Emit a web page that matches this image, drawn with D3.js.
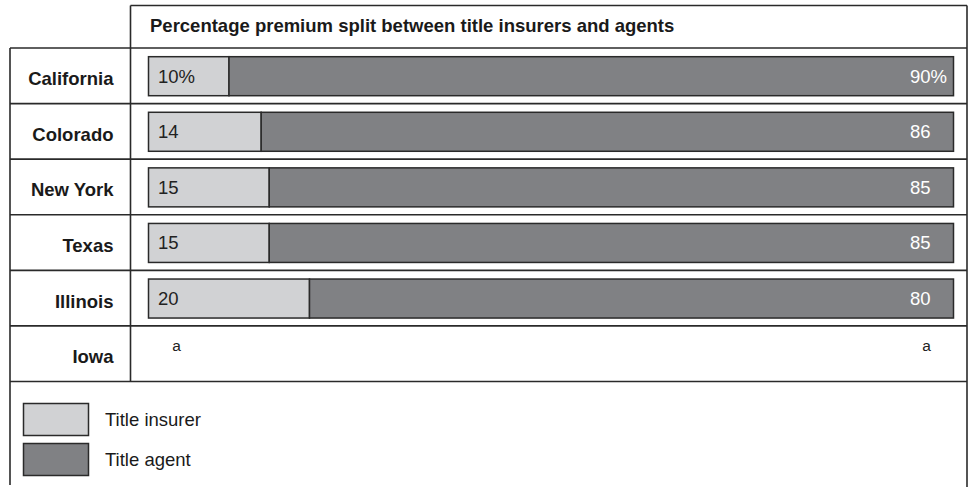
<!DOCTYPE html>
<html>
<head>
<meta charset="utf-8">
<script src="https://cdn.jsdelivr.net/npm/d3@7"></script>
<style>
body { margin: 0; background: #fff; }
svg { font-family: "Liberation Sans", Arial, Helvetica, sans-serif; }
</style>
</head>
<body>
<svg id="chart"></svg>
<script>
// data
var states   = ["California", "Colorado", "New York", "Texas", "Illinois", "Iowa"];
var insurer  = [10, 14, 15, 15, 20, null];
var agent    = [90, 86, 85, 85, 80, null];
var insLabel = ["10%", "14", "15", "15", "20", "a"];
var agtLabel = ["90%", "86", "85", "85", "80", "a"];
var legendNames = ["Title insurer", "Title agent"];
var title = "Percentage premium split between title insurers and agents";

var width = 970, height = 487;
var left = 10, right = 967, divX = 130.5, topY = 5.5, headY = 48;
var lineCol = "#2a2a2a";
var lightCol = "#d1d2d4", darkCol = "#808184";
var fs = 18.5;

var svg = d3.select("#chart").attr("width", width).attr("height", height);

var y = d3.scaleBand().domain(states).range([headY, 381.5]);
var x = d3.scaleLinear().domain([0, 100]).range([148.5, 953.5]);

// frame
var g = svg.append("g").attr("stroke", lineCol).attr("stroke-width", 1.6).attr("fill", "none");
g.append("line").attr("x1", divX).attr("x2", right).attr("y1", topY).attr("y2", topY);
g.append("line").attr("x1", divX).attr("x2", divX).attr("y1", topY).attr("y2", y.range()[1]);
g.append("line").attr("x1", left).attr("x2", left).attr("y1", headY).attr("y2", 485);
g.append("line").attr("x1", right).attr("x2", right).attr("y1", topY).attr("y2", height);
var rowLines = [headY].concat(states.map(function(s){ return y(s) + y.bandwidth(); }));
g.selectAll("line.row").data(rowLines).enter().append("line")
	.attr("class", "row")
	.attr("x1", left).attr("x2", right)
	.attr("y1", function(d){ return d; }).attr("y2", function(d){ return d; });

svg.append("text")
	.attr("x", 150).attr("y", 32)
	.attr("font-size", fs).attr("font-weight", "bold").attr("fill", "#1a1a1a")
	.text(title);

// state names
svg.selectAll("text.state").data(states).enter().append("text")
	.attr("class", "state")
	.attr("text-anchor", "end")
	.attr("x", 113.5)
	.attr("y", function(d){ return y(d) + y.bandwidth()/2 + 9.5; })
	.attr("font-size", fs).attr("font-weight", "bold").attr("fill", "#1a1a1a")
	.text(function(d){ return d; });

var rows = states.map(function(s, i){
	return {state: s, ins: insurer[i], agt: agent[i], l1: insLabel[i], l2: agtLabel[i]};
});
var barPad = 8.7, barH = 39;

var bars = rows.filter(function(d){ return d.ins != null; });
svg.selectAll("rect.ins").data(bars).enter().append("rect")
	.attr("class", "ins")
	.attr("x", x(0))
	.attr("y", function(d){ return y(d.state) + barPad; })
	.attr("width", function(d){ return x(d.ins) - x(0); })
	.attr("height", barH)
	.attr("fill", lightCol).attr("stroke", lineCol).attr("stroke-width", 1.5);
svg.selectAll("rect.agt").data(bars).enter().append("rect")
	.attr("class", "agt")
	.attr("x", function(d){ return x(d.ins); })
	.attr("y", function(d){ return y(d.state) + barPad; })
	.attr("width", function(d){ return x(d.ins + d.agt) - x(d.ins); })
	.attr("height", barH)
	.attr("fill", darkCol).attr("stroke", lineCol).attr("stroke-width", 1.5);

svg.selectAll("text.l1").data(bars).enter().append("text")
	.attr("class", "l1")
	.attr("x", x(0) + 9.5)
	.attr("y", function(d){ return y(d.state) + barPad + 26; })
	.attr("font-size", fs).attr("fill", "#222")
	.text(function(d){ return d.l1; });
svg.selectAll("text.l2").data(bars).enter().append("text")
	.attr("class", "l2")
	.attr("x", 910)
	.attr("y", function(d){ return y(d.state) + barPad + 26; })
	.attr("font-size", fs).attr("fill", "#fff")
	.text(function(d){ return d.l2; });

// Iowa footnote marks
var iowa = rows.filter(function(d){ return d.ins == null; });
svg.selectAll("text.fn1").data(iowa).enter().append("text")
	.attr("x", 176.5).attr("text-anchor", "middle")
	.attr("y", function(d){ return y(d.state) + 25; })
	.attr("font-size", 15.5).attr("fill", "#222")
	.text(function(d){ return d.l1; });
svg.selectAll("text.fn2").data(iowa).enter().append("text")
	.attr("x", 926.5).attr("text-anchor", "middle")
	.attr("y", function(d){ return y(d.state) + 25; })
	.attr("font-size", 15.5).attr("fill", "#222")
	.text(function(d){ return d.l2; });

// legend
var leg = svg.selectAll("g.leg").data(legendNames).enter().append("g")
	.attr("class", "leg")
	.attr("transform", function(d, i){ return "translate(23.5," + (403.5 + i*40) + ")"; });
leg.append("rect")
	.attr("width", 65).attr("height", 32)
	.attr("fill", function(d, i){ return i ? darkCol : lightCol; })
	.attr("stroke", lineCol).attr("stroke-width", 1.5);
leg.append("text")
	.attr("x", 81.5).attr("y", 22.5)
	.attr("font-size", fs).attr("fill", "#1a1a1a")
	.text(function(d){ return d; });
</script>
</body>
</html>
